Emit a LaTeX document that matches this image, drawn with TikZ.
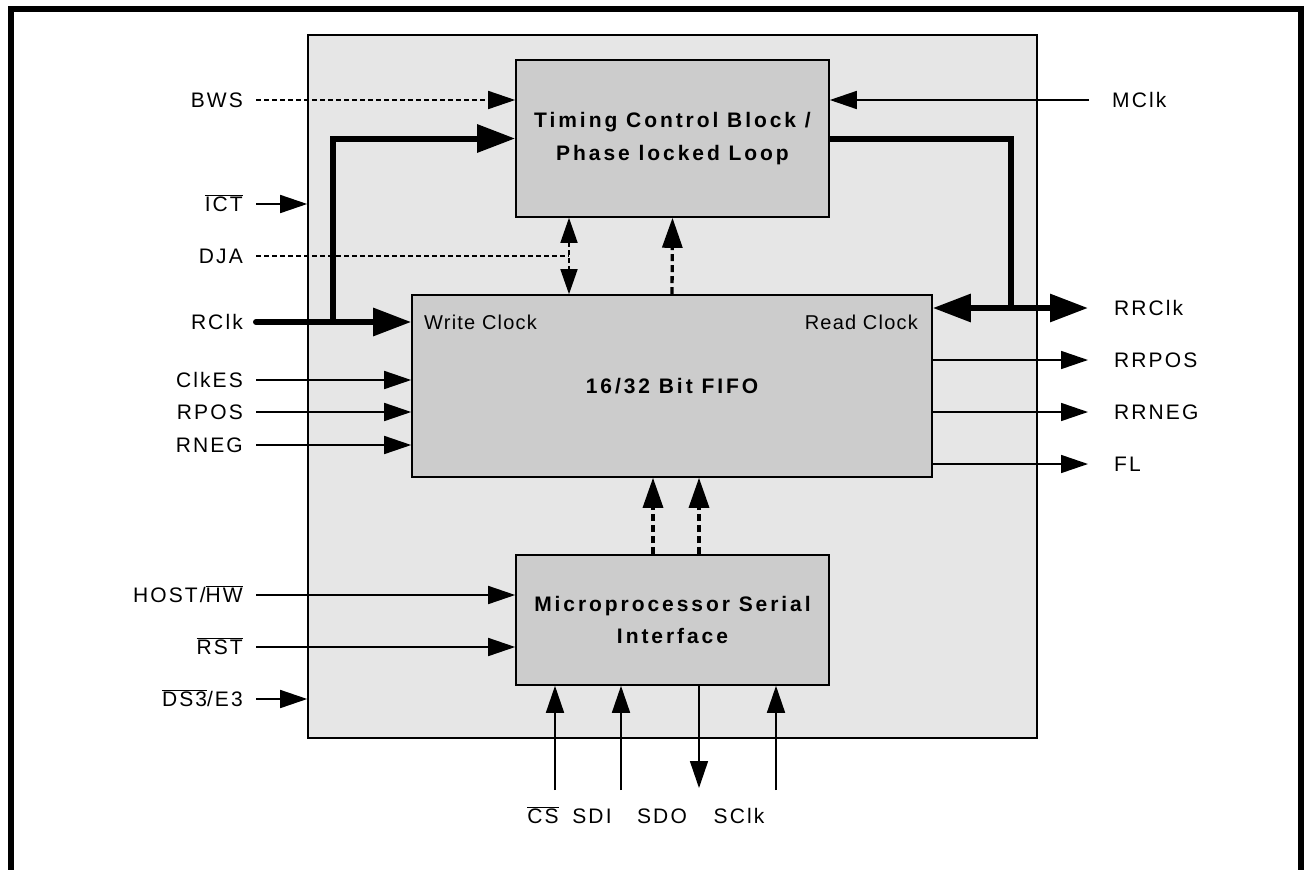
\documentclass[tikz,border=0pt]{standalone}
\usepackage{fontspec}
\setmainfont{Liberation Sans}[LetterSpace=10]
\usetikzlibrary{arrows.meta,positioning}
\definecolor{chipgray}{rgb}{0.902,0.902,0.902}
\definecolor{blkgray}{rgb}{0.8,0.8,0.8}
\newcommand{\ovl}[1]{$\overline{\mbox{#1}}$}
\newcommand{\pinfont}{\fontsize{21pt}{25pt}\selectfont}
\newcommand{\clkfont}{\fontsize{20pt}{24pt}\selectfont\addfontfeatures{LetterSpace=6}}
\newcommand{\titlefont}{\fontsize{21pt}{32.5pt}\selectfont\bfseries\addfontfeatures{LetterSpace=14}}

\begin{document}
\begin{tikzpicture}[x=1pt,y=1pt,yscale=-1,
	sig/.style={line width=1.6pt, -{Triangle[length=27pt,width=18pt]}},
	bus/.style={line width=6pt, -{Triangle[length=38pt,width=27pt]}},
	dsig/.style={sig, dash pattern=on 5pt off 3pt},
	dbus/.style={line width=3.3pt, dash pattern=on 7pt off 4pt, -{Triangle[length=30pt,width=20pt]}},
	blk/.style={draw, line width=1.6pt, fill=blkgray, align=center, font=\titlefont, inner sep=0pt},
	lpin/.style={anchor=east, inner xsep=13pt, inner ysep=0pt, text height=15pt, text depth=0pt, font=\pinfont},
	rpin/.style={anchor=west, inner sep=0pt, text height=15pt, text depth=0pt, font=\pinfont},
	bpin/.style={inner sep=0pt, text height=15pt, text depth=0pt, font=\pinfont}]
	\useasboundingbox (0,0) rectangle (1304,870);
	
	%Shape: Frame
	\draw [line width=6pt] (11,870) -- (11,9) -- (1301,9) -- (1301,870);
	%Shape: Chip
	\node [draw, line width=1.6pt, fill=chipgray, minimum width=729, minimum height=703] (chip) at (672.5,386.5) {};
	
	%Shape: Blocks
	\node [blk, minimum width=313, minimum height=157] (tcb) at (672.5,138.5) {Timing Control Block /\\Phase locked Loop};
	\node [blk, minimum width=520, minimum height=182] (fifo) at (672,386) {16/32 Bit FIFO};
	\node [blk, minimum width=313, minimum height=130] (mps) at (672.5,620) {Microprocessor Serial\\Interface};
	
	% Text Node
	\node [anchor=west, inner sep=0pt, font=\clkfont] (wclk) at (424,322) {Write Clock};
	\node [anchor=east, inner sep=0pt, font=\clkfont] (rdclk) at (918,322) {Read Clock};
	
	% Text Node
	\node [lpin] (bws) at (256,100) {BWS};
	\node [lpin] (ict) at (256,204) {\ovl{ICT}};
	\node [lpin] (dja) at (256,256) {DJA};
	\node [lpin] (rclk) at (256,322) {RClk};
	\node [lpin] (clkes) at (256,380) {ClkES};
	\node [lpin] (rpos) at (256,412) {RPOS};
	\node [lpin] (rneg) at (256,445) {RNEG};
	\node [lpin] (host) at (256,595) {HOST/\ovl{HW}};
	\node [lpin] (rst) at (256,647) {\ovl{RST}};
	\node [lpin] (ds3) at (256,699) {\ovl{DS3}/E3};
	
	% Text Node
	\node [rpin] (mclk) at (1112,100) {MClk};
	\node [rpin] (rrclk) at (1114,308) {RRClk};
	\node [rpin] (rrpos) at (1114,360) {RRPOS};
	\node [rpin] (rrneg) at (1114,412) {RRNEG};
	\node [rpin] (fl) at (1114,464) {FL};
	
	% Text Node
	\node [bpin] (cs) at (543,816) {\ovl{CS}};
	\node [bpin] (sdi) at (592,816) {SDI};
	\node [bpin] (sdo) at (662,816) {SDO};
	\node [bpin] (sclk) at (739,816) {SClk};
	
	%Coordinates
	\coordinate (wj) at (333,322);
	\coordinate (rj) at (1011,308);
	\coordinate (djk) at (569,256);
	\coordinate (rrend) at (1088,308);
	\coordinate (csx) at (555,790);
	\coordinate (sdix) at (621,790);
	\coordinate (sdox) at (699,788);
	\coordinate (sclkx) at (776,790);
	
	%Straight Lines: left inputs
	\draw [dsig] (bws) -- (bws -| tcb.west);
	\draw [sig] (ict) -- (ict -| chip.west);
	\draw [dsig, -] (dja) -- (djk);
	\draw [line width=1.6pt, dash pattern=on 5pt off 3pt, {Triangle[length=25pt,width=17pt]}-{Triangle[length=25pt,width=17pt]}] (djk |- tcb.south) -- (djk |- fifo.north);
	\draw [bus, line cap=round] (rclk) -- (rclk -| fifo.west);
	\draw [bus] (wj) |- (tcb.west);
	\draw [sig] (clkes) -- (clkes -| fifo.west);
	\draw [sig] (rpos) -- (rpos -| fifo.west);
	\draw [sig] (rneg) -- (rneg -| fifo.west);
	\draw [sig] (host) -- (host -| mps.west);
	\draw [sig] (rst) -- (rst -| mps.west);
	\draw [sig] (ds3) -- (ds3 -| chip.west);
	
	%Straight Lines: right side
	\draw [sig] ([xshift=-23pt]mclk.west) -- (mclk -| tcb.east);
	\draw [line width=6pt] (tcb.east) -| (rj);
	\draw [line width=6pt, {Triangle[length=38pt,width=27pt]}-{Triangle[length=38pt,width=27pt]}] (rrend -| fifo.east) -- (rrend);
	\draw [sig] (rrpos -| fifo.east) -- ([xshift=-26pt]rrpos.west);
	\draw [sig] (rrneg -| fifo.east) -- ([xshift=-26pt]rrneg.west);
	\draw [sig] (fl -| fifo.east) -- ([xshift=-26pt]fl.west);
	
	%Straight Lines: internal
	\draw [dbus] (fifo.north) -- (tcb.south);
	\draw [dbus] (mps.north -| 653,0) -- (fifo.south -| 653,0);
	\draw [dbus] (mps.north -| 699,0) -- (fifo.south -| 699,0);
	
	%Straight Lines: bottom
	\draw [sig] (csx) -- (csx |- mps.south);
	\draw [sig] (sdix) -- (sdix |- mps.south);
	\draw [sig] (sdox |- mps.south) -- (sdox);
	\draw [sig] (sclkx) -- (sclkx |- mps.south);
	
\end{tikzpicture}
\end{document}
